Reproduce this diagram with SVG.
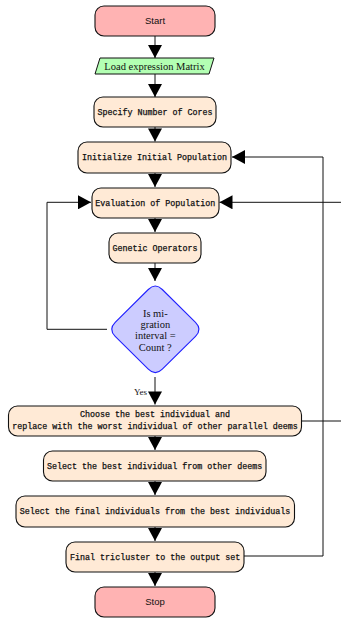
<svg xmlns="http://www.w3.org/2000/svg" width="341" height="620" viewBox="0 0 341 620">
<defs>
<marker id="ah" markerUnits="userSpaceOnUse" markerWidth="14" markerHeight="14" viewBox="0 0 13 14" refX="13" refY="7" orient="auto">
<path d="M0,0 L13,7 L0,14 z" fill="#000"/>
</marker>
</defs>
<style>
.term{fill:#ffb3b3;stroke:#111;stroke-width:1.1}
.proc{fill:#ffead6;stroke:#111;stroke-width:1.1}
.io{fill:#b3ffb3;stroke:#111;stroke-width:1}
.dec{fill:#ccccff;stroke:#2020ff;stroke-width:1.1}
.sans{font-family:"Liberation Sans",Arial,sans-serif;font-size:9.5px;fill:#111;text-anchor:middle}
.serif{font-family:"Liberation Serif","Times New Roman",serif;font-size:10.5px;fill:#111;text-anchor:middle}
.mono{font-family:"Liberation Mono","Courier New",monospace;font-size:8.35px;fill:#111;stroke:#111;stroke-width:0.25;text-anchor:middle}
.lbl{font-family:"Liberation Serif","Times New Roman",serif;font-size:9px;fill:#111;text-anchor:end}
.conn{fill:none;stroke:#111;stroke-width:1}
.arr{marker-end:url(#ah)}
</style>
<g id="start"><rect class="term" x="95" y="6" width="120" height="30" rx="9"/><text class="sans" x="155" y="24.3">Start</text></g>
<g id="load"><polygon class="io" points="100,58 214,58 209,74 95,74"/><text class="serif" x="154.5" y="69.5">Load expression Matrix</text></g>
<g id="cores"><rect class="proc" x="94" y="97" width="122" height="30" rx="9"/><text class="mono" x="155" y="114.8">Specify Number of Cores</text></g>
<g id="init"><rect class="proc" x="78" y="142" width="153" height="31" rx="9"/><text class="mono" x="154.5" y="160.3">Initialize Initial Population</text></g>
<g id="eval"><rect class="proc" x="92" y="188" width="127" height="30" rx="9"/><text class="mono" x="155.3" y="205.8">Evaluation of Population</text></g>
<g id="genetic"><rect class="proc" x="109" y="233" width="92" height="30" rx="9"/><text class="mono" x="155" y="250.8">Genetic Operators</text></g>
<g id="decision"><path class="dec" d="M148.3,289.5 Q155.3,282.5 162.3,289.5 L195.5,322.3 Q202.5,329.3 195.5,336.3 L162.3,369.2 Q155.3,376.2 148.3,369.2 L115.2,336.3 Q108.2,329.3 115.2,322.3 Z"/>
<text class="serif" x="155.3" y="316.8">Is mi-</text><text class="serif" x="155.3" y="327.8">gration</text><text class="serif" x="155.3" y="339.3">interval =</text><text class="serif" x="155.3" y="351">Count ?</text></g>
<g id="choose"><rect class="proc" x="8.5" y="406" width="293" height="30" rx="9"/><text class="mono" x="155" y="417">Choose the best individual and</text><text class="mono" x="155" y="428.5">replace with the worst individual of other parallel deems</text></g>
<g id="selbest"><rect class="proc" x="43.5" y="451" width="222.5" height="30" rx="9"/><text class="mono" x="154.7" y="468.8">Select the best individual from other deems</text></g>
<g id="selfinal"><rect class="proc" x="16" y="496" width="278.5" height="31" rx="9"/><text class="mono" x="155" y="514.1">Select the final individuals from the best individuals</text></g>
<g id="final"><rect class="proc" x="66" y="542" width="178" height="30" rx="9"/><text class="mono" x="155.2" y="559.5">Final tricluster to the output set</text></g>
<g id="stop"><rect class="term" x="95" y="587" width="120" height="30" rx="9"/><text class="sans" x="155" y="605">Stop</text></g>
<g id="connectors">
<line class="conn arr" x1="155" y1="36" x2="155" y2="58"/>
<line class="conn arr" x1="155" y1="74" x2="155" y2="97"/>
<line class="conn arr" x1="155" y1="127" x2="155" y2="141.5"/>
<line class="conn arr" x1="155" y1="173" x2="155" y2="187"/>
<line class="conn arr" x1="155" y1="218" x2="155" y2="232"/>
<line class="conn arr" x1="155" y1="263" x2="155" y2="281"/>
<line class="conn arr" x1="155" y1="377" x2="155" y2="404.5"/>
<text class="lbl" x="147" y="395">Yes</text>
<line class="conn arr" x1="155" y1="436" x2="155" y2="450"/>
<line class="conn arr" x1="155" y1="481" x2="155" y2="495"/>
<line class="conn arr" x1="155" y1="527" x2="155" y2="541"/>
<line class="conn arr" x1="155" y1="572" x2="155" y2="586"/>
<polyline class="conn arr" points="244,556 323,556 323,157 232,157"/>
<polyline class="conn arr" points="107,329.3 47,329.3 47,202.3 91,202.3"/>
<polyline class="conn arr" points="301.5,421 346,421 346,202.3 219.5,202.3"/>
</g>
</svg>
